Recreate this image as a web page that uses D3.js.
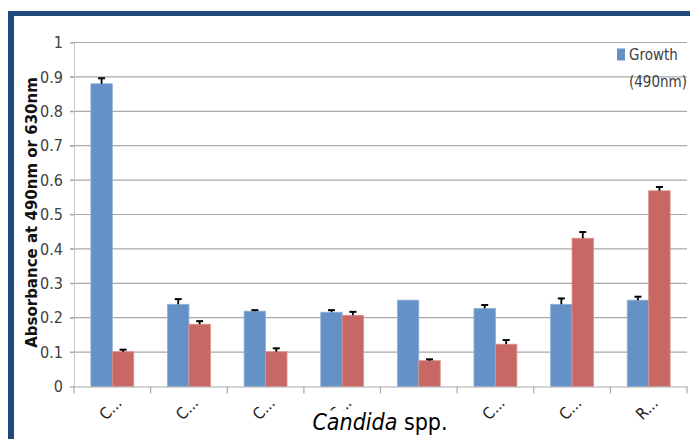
<!DOCTYPE html>
<html>
<head>
<meta charset="utf-8">
<script src="https://cdn.jsdelivr.net/npm/d3@7"></script>
<style>
  body { margin: 0; background: #fff; }
  text { font-family: "Liberation Sans Narrow", "DejaVu Sans Condensed", "Open Sans", sans-serif; }
</style>
</head>
<body>
<div id="chart"></div>
<script>
// data
const categories = ["C...", "C...", "C...", "C...", "C...", "C...", "C...", "R..."];
const growth = [0.88, 0.239, 0.219, 0.216, 0.251, 0.227, 0.239, 0.251];
const growthErr = [0.016, 0.015, 0.003, 0.006, 0, 0.01, 0.017, 0.01];
const other = [0.101, 0.181, 0.101, 0.207, 0.075, 0.123, 0.431, 0.569];
const otherErr = [0.006, 0.009, 0.01, 0.01, 0.004, 0.012, 0.018, 0.011];
const yTicks = [0, 0.1, 0.2, 0.3, 0.4, 0.5, 0.6, 0.7, 0.8, 0.9, 1];

const W = 690, H = 439;
const margin = {top: 42.5, right: 3, bottom: 52.5, left: 74};
const width = W - margin.left - margin.right,
      height = H - margin.top - margin.bottom;

const root = d3.select("#chart").append("svg")
  .attr("width", W).attr("height", H);

// dark blue frame on top and left
root.append("rect").attr("x", 8).attr("y", 11).attr("width", W - 8).attr("height", 5).attr("fill", "#1f497d");
root.append("rect").attr("x", 8).attr("y", 11).attr("width", 6).attr("height", H - 11).attr("fill", "#1f497d");

const svg = root.append("g")
  .attr("transform", `translate(${margin.left},${margin.top})`);

const x = d3.scaleBand().domain(d3.range(categories.length)).range([0, width]).paddingInner(0).paddingOuter(0);
const y = d3.scaleLinear().domain([0, 1]).range([height, 0]);

// gridlines
svg.selectAll(".grid")
  .data(yTicks.slice(1))
  .enter().append("line")
    .attr("x1", -4).attr("x2", width)
    .attr("y1", d => y(d)).attr("y2", d => y(d))
    .attr("stroke", "#a9a9a9").attr("stroke-width", 1.2);

// y axis
const yAxis = svg.append("g")
  .call(d3.axisLeft(y).tickValues(yTicks).tickFormat(d => d3.format("")(+d.toFixed(1))).tickSize(4).tickPadding(7));
yAxis.select(".domain").attr("stroke", "#c8c8c8");
yAxis.selectAll(".tick line").attr("stroke", "#a9a9a9");
yAxis.selectAll("text").attr("fill", "#404040").style("font-size", "16px");

const bw = x.bandwidth() * 0.28;

// bars
const groups = svg.selectAll(".grp")
  .data(categories)
  .enter().append("g")
    .attr("transform", (d, i) => `translate(${x(i) + x.bandwidth() / 2},0)`);

groups.append("rect")
  .attr("x", -bw).attr("width", bw)
  .attr("y", (d, i) => y(growth[i]))
  .attr("height", (d, i) => height - y(growth[i]))
  .attr("fill", "#6592c6").attr("stroke", "#8fb0d8").attr("stroke-width", 0.8);

groups.append("rect")
  .attr("x", 0).attr("width", bw)
  .attr("y", (d, i) => y(other[i]))
  .attr("height", (d, i) => height - y(other[i]))
  .attr("fill", "#c86865").attr("stroke", "#dc908d").attr("stroke-width", 0.8);

// error bars
function errBar(g, cx, vals, errs) {
  g.each(function(d, i) {
    if (errs[i] <= 0) return;
    const s = d3.select(this);
    s.append("line")
      .attr("x1", cx).attr("x2", cx)
      .attr("y1", y(vals[i])).attr("y2", y(vals[i] + errs[i]))
      .attr("stroke", "#000").attr("stroke-width", 1.8);
    s.append("line")
      .attr("x1", cx - 3.5).attr("x2", cx + 3.5)
      .attr("y1", y(vals[i] + errs[i])).attr("y2", y(vals[i] + errs[i]))
      .attr("stroke", "#000").attr("stroke-width", 2);
  });
}
errBar(groups, -bw / 2, growth, growthErr);
errBar(groups, bw / 2, other, otherErr);

// x axis
const xAxis = svg.append("g")
  .attr("transform", `translate(0,${height})`)
  .call(d3.axisBottom(x).tickSize(0).tickFormat(""));
xAxis.select(".domain").attr("stroke", "#a9a9a9").attr("stroke-width", 1.2);
svg.selectAll(".xtick")
  .data(d3.range(categories.length + 1))
  .enter().append("line")
    .attr("x1", d => d * x.step()).attr("x2", d => d * x.step())
    .attr("y1", height).attr("y2", height + 7)
    .attr("stroke", "#a9a9a9").attr("stroke-width", 1.2);

svg.selectAll(".xlab")
  .data(categories)
  .enter().append("text")
    .attr("transform", (d, i) => `translate(${x(i) + x.bandwidth() / 2 + 2},${height + 26}) rotate(-45)`)
    .attr("text-anchor", "middle")
    .attr("fill", "#202020")
    .style("font-size", "16px")
    .text(d => d);

// axis titles
svg.append("text")
  .attr("transform", "rotate(-90)")
  .attr("x", -height / 2 + 2)
  .attr("y", -37)
  .attr("text-anchor", "middle")
  .style("font-family", "'DejaVu Sans', sans-serif")
  .style("font-weight", "bold")
  .style("font-size", "15px")
  .attr("fill", "#111")
  .text("Absorbance at 490nm or 630nm");

// x title sits on a white box that hides the labels under it
svg.append("rect")
  .attr("x", 242).attr("y", height + 24)
  .attr("width", 130).attr("height", 30)
  .attr("fill", "#fff");
svg.append("rect")
  .attr("x", x(4) + 10).attr("y", height + 10)
  .attr("width", x.bandwidth() - 20).attr("height", 40)
  .attr("fill", "#fff");
const xt = svg.append("text")
  .attr("x", 306)
  .attr("y", height + 43)
  .attr("text-anchor", "middle")
  .style("font-size", "23px")
  .attr("fill", "#000");
xt.append("tspan").style("font-style", "italic").text("Candida");
xt.append("tspan").text(" spp.");

// legend (clipped in the original)
const lg = svg.append("g").attr("transform", `translate(${width - 70},7)`);
lg.append("rect").attr("width", 8).attr("height", 12).attr("y", -1).attr("fill", "#6592c6");
lg.append("text").attr("x", 12).attr("y", 10).attr("fill", "#404040").style("font-size", "15px").text("Growth");
lg.append("text").attr("x", 12).attr("y", 37).attr("fill", "#404040").style("font-size", "15px").text("(490nm)");
</script>
</body>
</html>
